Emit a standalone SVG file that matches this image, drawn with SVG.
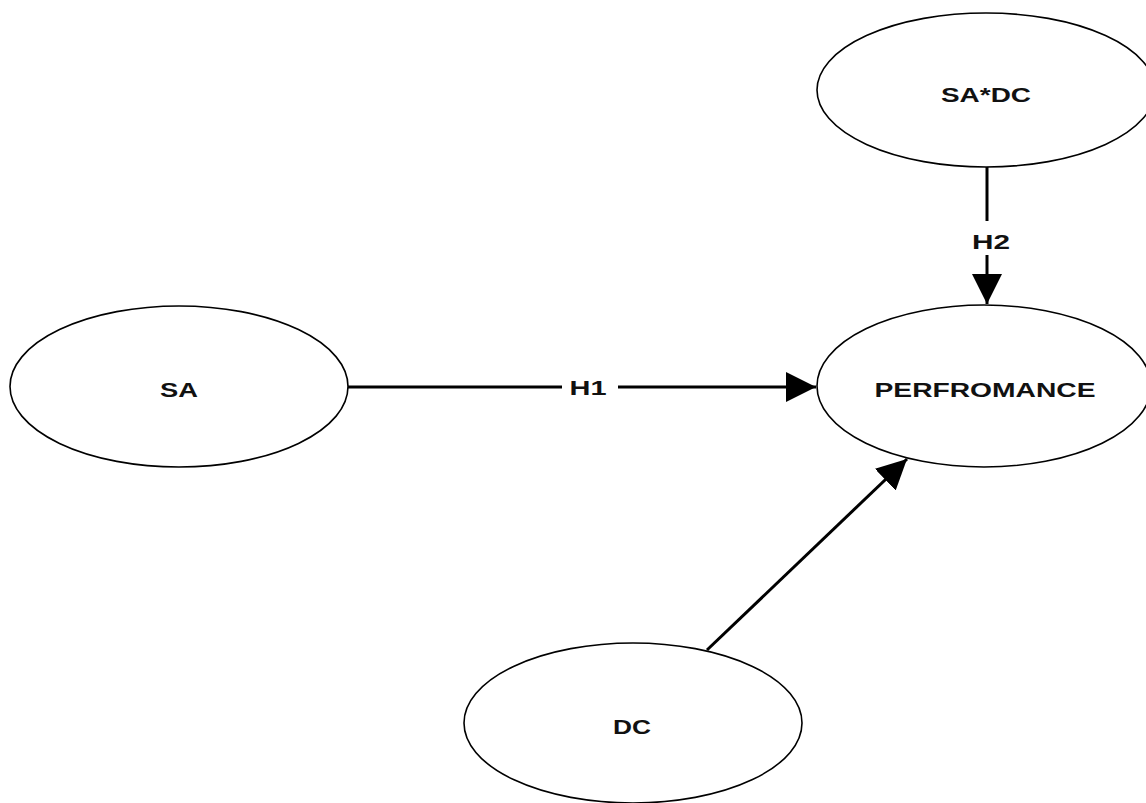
<svg xmlns="http://www.w3.org/2000/svg" width="1146" height="803" viewBox="0 0 1146 803">
<style>
.node ellipse{fill:#fff;stroke:#000;stroke-width:1.6}
text{font-family:"Liberation Sans",Arial,sans-serif;font-weight:bold;font-size:21px;fill:#111;text-anchor:middle}
.edge{stroke:#000;stroke-width:3;fill:none}
.lbl{fill:#fff;stroke:none}
</style>
<defs>
<marker id="arr" markerUnits="userSpaceOnUse" markerWidth="32" markerHeight="32" refX="30" refY="15" orient="auto">
<path d="M0,0 L30,15 L0,30 z" fill="#000"/>
</marker>
</defs>
<rect width="1146" height="803" fill="#fff"/>
<g id="connectors">
<g id="e-h1">
<line class="edge" x1="348" y1="387" x2="816" y2="387" marker-end="url(#arr)"/>
<rect class="lbl" x="562" y="374" width="56" height="26"/>
<text x="588" y="395" textLength="37" lengthAdjust="spacingAndGlyphs">H1</text>
</g>
<g id="e-h2">
<line class="edge" x1="987" y1="167" x2="987" y2="304" marker-end="url(#arr)"/>
<rect class="lbl" x="968" y="221" width="40" height="34"/>
<text x="991" y="249" textLength="38" lengthAdjust="spacingAndGlyphs">H2</text>
</g>
<g id="e-dc">
<line class="edge" x1="707" y1="650" x2="907" y2="459" marker-end="url(#arr)"/>
</g>
</g>
<g id="n-sadc" class="node">
<ellipse cx="986" cy="90" rx="169" ry="77"/>
<text x="986" y="102" textLength="90" lengthAdjust="spacingAndGlyphs">SA*DC</text>
</g>
<g id="n-sa" class="node">
<ellipse cx="179" cy="386.5" rx="169" ry="80.5"/>
<text x="179" y="397" textLength="38" lengthAdjust="spacingAndGlyphs">SA</text>
</g>
<g id="n-perf" class="node">
<ellipse cx="984" cy="386" rx="167" ry="81"/>
<text x="985" y="397" textLength="221" lengthAdjust="spacingAndGlyphs">PERFROMANCE</text>
</g>
<g id="n-dc" class="node">
<ellipse cx="633" cy="723" rx="169" ry="80"/>
<text x="632" y="734" textLength="38" lengthAdjust="spacingAndGlyphs">DC</text>
</g>
</svg>
